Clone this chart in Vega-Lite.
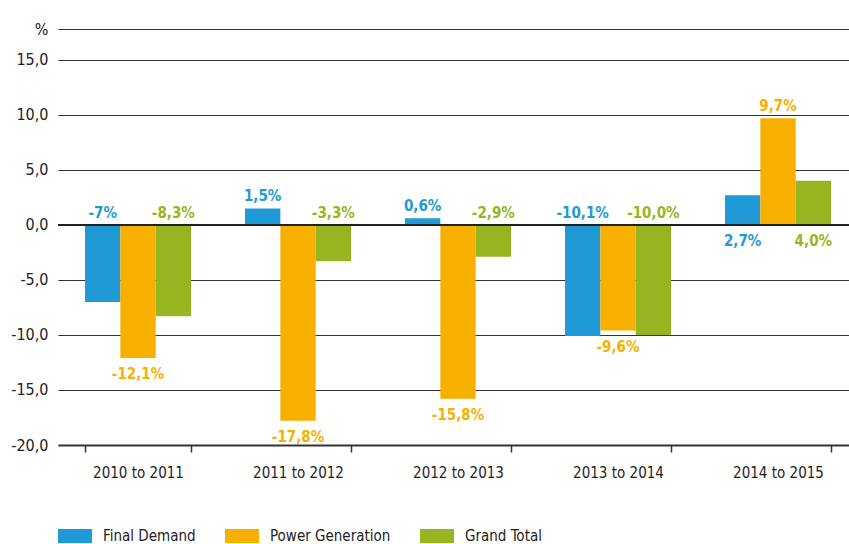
{
  "$schema": "https://vega.github.io/schema/vega-lite/v6.json",
  "width": 791,
  "height": 416,
  "autosize": "none",
  "padding": {"left": 58, "top": 29, "right": 0, "bottom": 99},
  "background": "white",
  "config": {
    "font": "DejaVu Sans Condensed, sans-serif",
    "view": {"stroke": null}
  },
  "data": {
    "values": [
      {"period": "2010 to 2011", "series": "Final Demand", "value": -7.0, "label": "-7%"},
      {"period": "2010 to 2011", "series": "Power Generation", "value": -12.1, "label": "-12,1%"},
      {"period": "2010 to 2011", "series": "Grand Total", "value": -8.3, "label": "-8,3%"},
      {"period": "2011 to 2012", "series": "Final Demand", "value": 1.5, "label": "1,5%"},
      {"period": "2011 to 2012", "series": "Power Generation", "value": -17.8, "label": "-17,8%"},
      {"period": "2011 to 2012", "series": "Grand Total", "value": -3.3, "label": "-3,3%"},
      {"period": "2012 to 2013", "series": "Final Demand", "value": 0.6, "label": "0,6%"},
      {"period": "2012 to 2013", "series": "Power Generation", "value": -15.8, "label": "-15,8%"},
      {"period": "2012 to 2013", "series": "Grand Total", "value": -2.9, "label": "-2,9%"},
      {"period": "2013 to 2014", "series": "Final Demand", "value": -10.1, "label": "-10,1%"},
      {"period": "2013 to 2014", "series": "Power Generation", "value": -9.6, "label": "-9,6%"},
      {"period": "2013 to 2014", "series": "Grand Total", "value": -10.0, "label": "-10,0%"},
      {"period": "2014 to 2015", "series": "Final Demand", "value": 2.7, "label": "2,7%"},
      {"period": "2014 to 2015", "series": "Power Generation", "value": 9.7, "label": "9,7%"},
      {"period": "2014 to 2015", "series": "Grand Total", "value": 4.0, "label": "4,0%"}
    ]
  },
  "transform": [
    {"calculate": "datum.series == 'Power Generation' ? datum.value : ((datum.value > 0 && datum.value < 2) ? datum.value : 0)", "as": "ly"},
    {"calculate": "(datum.series == 'Power Generation' && datum.value > 0) || (datum.series != 'Power Generation' && datum.value < 2)", "as": "above"}
  ],
  "encoding": {
    "x": {
      "field": "period",
      "type": "nominal",
      "scale": {"range": [0, 800], "paddingInner": 0.3375, "paddingOuter": 0.16875},
      "axis": {
        "title": null,
        "labelAngle": 0,
        "labelFontSize": 15,
        "labelColor": "#222",
        "labelPadding": 13,
        "domainColor": "#333",
        "domainWidth": 2,
        "tickColor": "#333",
        "tickWidth": 1.5,
        "tickSize": 7,
        "tickBand": "extent",
        "grid": false
      }
    },
    "xOffset": {"field": "series", "type": "nominal", "sort": ["Final Demand", "Power Generation", "Grand Total"]}
  },
  "layer": [
    {
      "mark": {"type": "bar"},
      "encoding": {
        "y": {
          "field": "value",
          "type": "quantitative",
          "scale": {"domain": [-20, 17.8], "nice": false, "zero": false},
          "axis": {
            "title": null,
            "values": [-20, -15, -10, -5, 0, 5, 10, 15, 17.8],
            "labelExpr": "datum.value > 17 ? '%' : replace(replace(format(datum.value, '.1f'), '.', ','), '\u2212', '-')",
            "labelFontSize": 16,
            "labelColor": "#222",
            "labelPadding": 10,
            "domain": false,
            "ticks": false,
            "grid": true,
            "gridColor": "#333",
            "gridWidth": 1.2,
            "encode": {
              "labels": {"update": {"dy": {"signal": "datum.value > 17 ? -7 : 0"}}},
              "grid": {"update": {"stroke": {"signal": "datum.value > 17 ? '#888' : '#333'"}, "strokeWidth": {"signal": "datum.value > 17 ? 1.8 : 1.2"}}}
            }
          }
        },
        "color": {
          "field": "series",
          "type": "nominal",
          "scale": {"domain": ["Final Demand", "Power Generation", "Grand Total"], "range": ["#1f9ad6", "#f8b000", "#97b521"]},
          "legend": {
            "title": null,
            "orient": "none",
            "legendX": 0,
            "legendY": 490,
            "direction": "horizontal",
            "symbolType": "M-1,-0.41H1V0.41H-1Z",
            "symbolSize": 1156,
            "symbolStrokeWidth": 0,
            "labelFontSize": 15,
            "labelColor": "#222",
            "labelOffset": 11,
            "columnPadding": 29
          }
        }
      }
    },
    {
      "mark": {"type": "rule", "color": "#222", "strokeWidth": 2},
      "encoding": {"y": {"datum": 0, "type": "quantitative"}, "x": {"value": 0}, "x2": {"value": 791}, "xOffset": null}
    },
    {
      "transform": [{"filter": "datum.above"}],
      "mark": {"type": "text", "baseline": "alphabetic", "dy": -7, "fontSize": 15, "fontWeight": "bold"},
      "encoding": {
        "y": {"field": "ly", "type": "quantitative"},
        "text": {"field": "label"},
        "color": {"field": "series", "type": "nominal", "legend": null}
      }
    },
    {
      "transform": [{"filter": "!datum.above"}],
      "mark": {"type": "text", "baseline": "top", "dy": 9, "fontSize": 15, "fontWeight": "bold"},
      "encoding": {
        "y": {"field": "ly", "type": "quantitative"},
        "text": {"field": "label"},
        "color": {"field": "series", "type": "nominal", "legend": null}
      }
    }
  ]
}
